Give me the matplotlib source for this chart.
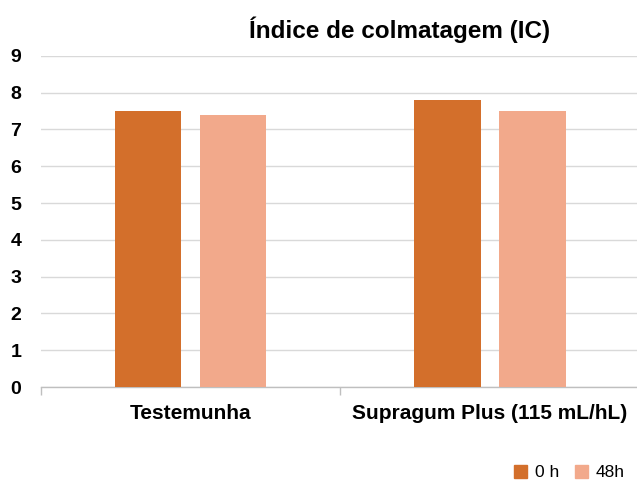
import matplotlib.pyplot as plt
import numpy as np
from matplotlib.patches import Patch

categorias = ["Testemunha", "Supragum Plus (115 mL/hL)"]
series = ["0 h", "48h"]
valores_0h = [7.5, 7.8]
valores_48h = [7.4, 7.5]
cores = ["#D36F2B", "#F2A98B"]

plt.rcParams['font.family'] = ['Liberation Sans', 'DejaVu Sans']

fig = plt.figure(figsize=(6.37, 4.82), dpi=100)
ax = fig.add_axes([0.064, 0.197, 0.94, 0.687])

x = np.arange(len(categorias))
w = 0.223
off = 0.142
ax.bar(x - off, valores_0h, w, color=cores[0], zorder=3)
ax.bar(x + off, valores_48h, w, color=cores[1], zorder=3)

ax.set_xlim(-0.5, 1.5)
ax.set_ylim(0, 9)
ax.set_yticks(range(0, 10))
ax.yaxis.grid(True, color="#D9D9D9", linewidth=1, zorder=0)
ax.set_axisbelow(True)

for s in ["top", "right", "left"]:
    ax.spines[s].set_visible(False)
ax.spines["bottom"].set_color("#BFBFBF")
ax.spines["bottom"].set_linewidth(1)

ax.set_xticks(x)
ax.set_xticklabels(categorias, fontsize=15, fontweight="bold")
ax.set_xticks([-0.5, 0.5, 1.5], minor=True)
ax.tick_params(axis="x", which="major", length=0, pad=12)
ax.tick_params(axis="x", which="minor", length=6, color="#BFBFBF", width=1)
ax.tick_params(axis="y", length=0, pad=14, labelsize=14)
for lbl in ax.get_yticklabels():
    lbl.set_fontweight("bold")

fig.text(0.628, 0.938, "Índice de colmatagem (IC)", ha="center", va="center",
         fontsize=17.5, fontweight="bold")

handles = [Patch(color=cores[0], label=series[0]), Patch(color=cores[1], label=series[1])]
fig.legend(handles=handles, loc="lower right", bbox_to_anchor=(1.0, -0.022), ncol=2,
           frameon=False, fontsize=12.5, handlelength=0.75, handleheight=0.75,
           handletextpad=0.45, columnspacing=0.9, borderaxespad=0.3)

fig.savefig("out.png", dpi=100)
